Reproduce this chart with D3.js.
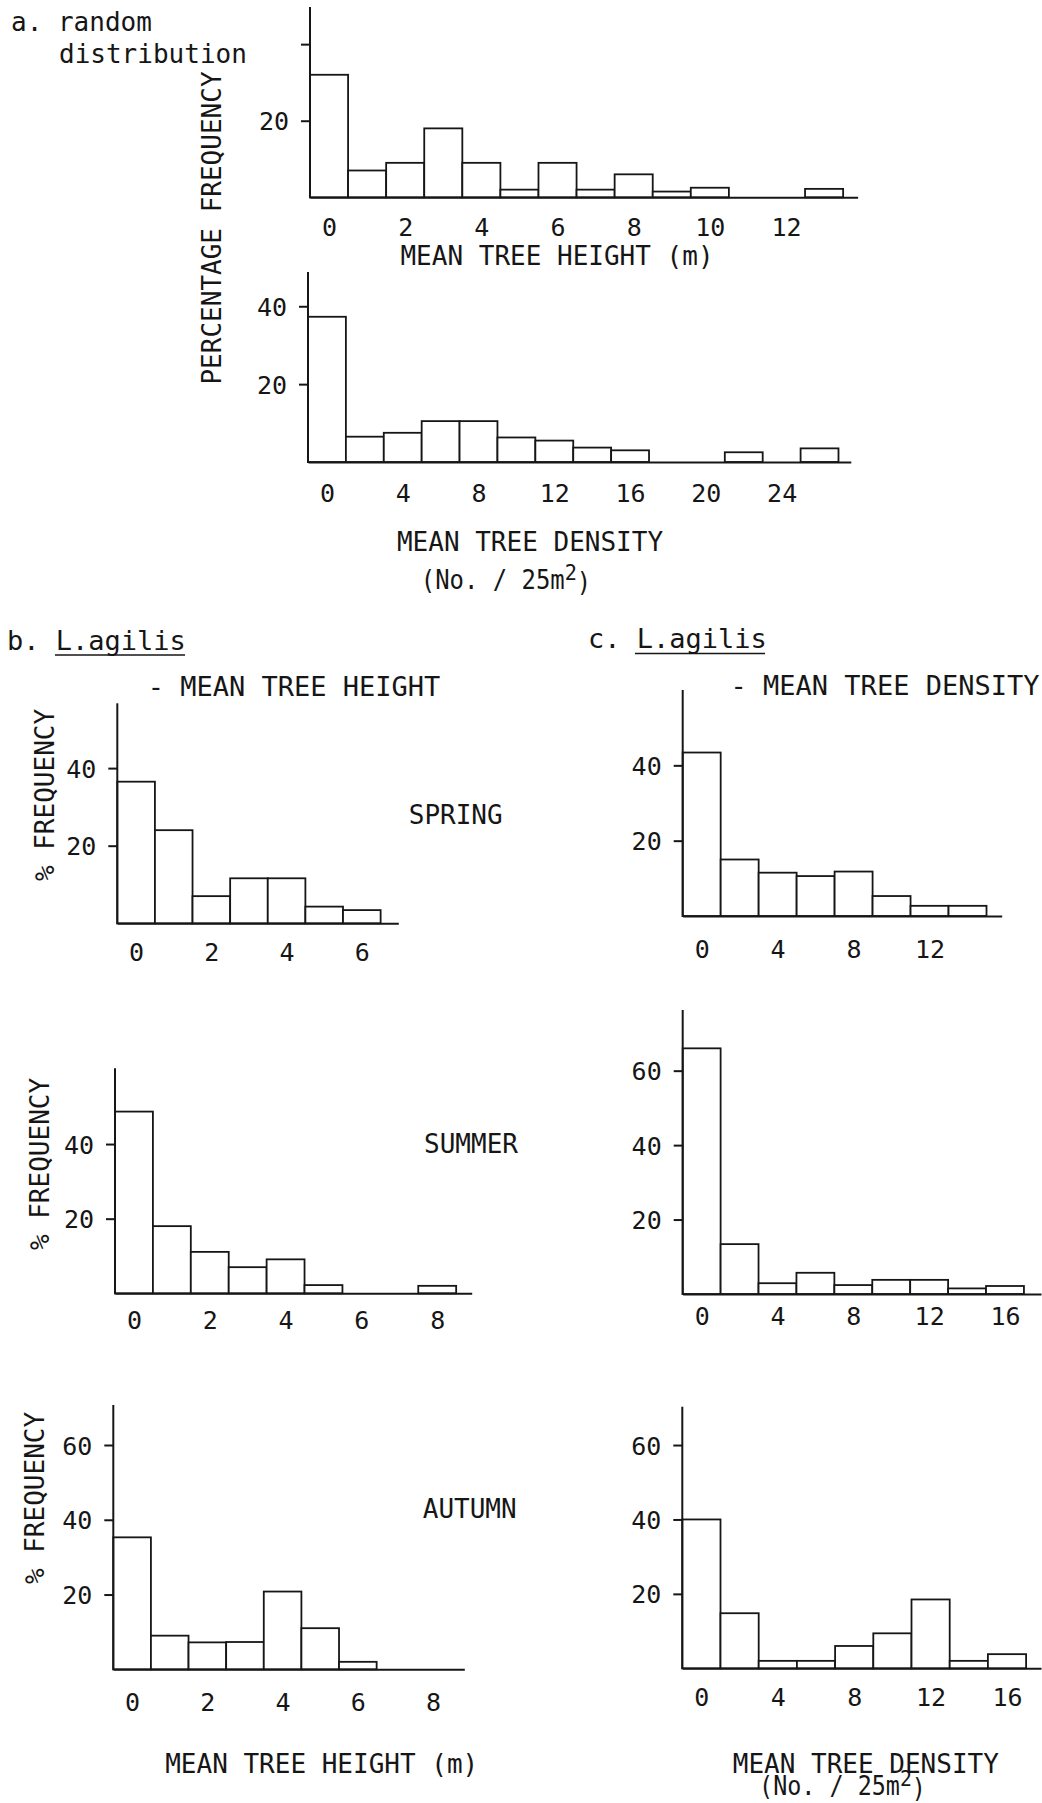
<!DOCTYPE html>
<html>
<head>
<meta charset="utf-8">
<script src="https://cdn.jsdelivr.net/npm/d3@7"></script>
<style>
  html, body { margin: 0; padding: 0; background: #fff; }
  svg { display: block; }
  text { font-family: "DejaVu Sans Mono", "Liberation Mono", monospace; fill: #161616; }
</style>
</head>
<body>
<svg id="fig" width="1042" height="1803"></svg>
<script>
// ---------- data: percentage frequency per class ----------
// a. random distribution
const randomHeightBins = [0, 1, 2, 3, 4, 5, 6, 7, 8, 9, 10, 11, 12, 13];
const randomHeightPct  = [32, 7, 9, 18, 9, 2, 9, 2, 6, 1.5, 2.5, 0, 0, 2.2];
const randomHeightTicks = [0, 2, 4, 6, 8, 10, 12];

const randomDensityBins = [0, 2, 4, 6, 8, 10, 12, 14, 16, 18, 20, 22, 24, 26];
const randomDensityPct  = [37.3, 6.5, 7.5, 10.5, 10.5, 6.3, 5.5, 3.7, 3, 0, 0, 2.5, 0, 3.5];
const randomDensityTicks = [0, 4, 8, 12, 16, 20, 24];

// b. L.agilis - mean tree height (m)
const springHeightBins = [0, 1, 2, 3, 4, 5, 6];
const springHeightPct  = [36.5, 24, 7, 11.6, 11.6, 4.3, 3.4];
const springHeightTicks = [0, 2, 4, 6];

const summerHeightBins = [0, 1, 2, 3, 4, 5, 6, 7, 8];
const summerHeightPct  = [48.7, 18, 11.1, 7, 9.1, 2.2, 0, 0, 2];
const summerHeightTicks = [0, 2, 4, 6, 8];

const autumnHeightBins = [0, 1, 2, 3, 4, 5, 6, 7, 8];
const autumnHeightPct  = [35.3, 9, 7.2, 7.3, 20.8, 11, 2, 0, 0];
const autumnHeightTicks = [0, 2, 4, 6, 8];

// c. L.agilis - mean tree density (No. / 25 m2)
const springDensityBins = [0, 2, 4, 6, 8, 10, 12, 14];
const springDensityPct  = [43.4, 15, 11.5, 10.6, 11.8, 5.3, 2.7, 2.7];
const springDensityTicks = [0, 4, 8, 12];

const summerDensityBins = [0, 2, 4, 6, 8, 10, 12, 14, 16];
const summerDensityPct  = [66, 13.4, 2.9, 5.7, 2.4, 3.8, 3.8, 1.5, 2.15];
const summerDensityTicks = [0, 4, 8, 12, 16];

const autumnDensityBins = [0, 2, 4, 6, 8, 10, 12, 14, 16];
const autumnDensityPct  = [40, 14.8, 2, 2, 6, 9.4, 18.5, 2, 3.8];
const autumnDensityTicks = [0, 4, 8, 12, 16];

// ---------- drawing ----------
const svg = d3.select("#fig");
const INK = "#161616";

// text helper: optional horizontal compression via scale about the anchor point
function label(s, x, y, o = {}) {
  const size = o.size || 26, sx = o.sx || 1, rot = o.rotate || 0;
  return svg.append("text")
    .attr("transform", `translate(${x},${y}) rotate(${rot}) scale(${sx},1)`)
    .attr("text-anchor", o.anchor || "middle")
    .attr("dy", o.dy === undefined ? "0.36em" : o.dy)
    .style("font-size", size + "px")
    .text(s);
}

function histogram(p) {
  const g = svg.append("g");
  const x = d3.scaleLinear().domain(p.xDomain).range([p.left, p.right]);
  const y = d3.scaleLinear().domain([0, p.yMax]).range([p.base, p.top]);
  const half = p.binWidth / 2;

  // bars
  g.selectAll("rect.bar")
    .data(p.bins.map((b, i) => ({ b, v: p.values[i] })))
    .join("rect")
    .attr("class", "bar")
    .attr("x", d => x(d.b - half))
    .attr("width", d => x(d.b + half) - x(d.b - half))
    .attr("y", d => y(d.v))
    .attr("height", d => y(0) - y(d.v))
    .attr("fill", "#fff")
    .attr("stroke", INK)
    .attr("stroke-width", 1.8);

  // x axis
  const xa = g.append("g")
    .attr("transform", `translate(0,${p.base})`)
    .call(d3.axisBottom(x).tickValues(p.xTicks).tickSize(0).tickSizeOuter(0));
  xa.select(".domain").attr("stroke", INK).attr("stroke-width", 2);
  xa.selectAll(".tick text")
    .attr("y", 0).attr("dy", "0.36em")
    .attr("transform", `translate(0,${p.xLabelOffset})`)
    .style("font-size", "25px")
    .style("font-family", '"DejaVu Sans Mono", monospace')
    .attr("fill", INK);

  // y axis
  const ya = g.append("g")
    .attr("transform", `translate(${p.left},0)`)
    .call(d3.axisLeft(y).tickValues(p.yTicks).tickSizeInner(9).tickSizeOuter(0)
      .tickFormat(v => (p.yHidden || []).includes(v) ? "" : v));
  ya.select(".domain").attr("stroke", INK).attr("stroke-width", 2)
    .attr("d", `M0,${p.base + 1}V${p.top}`);
  ya.selectAll(".tick line").attr("stroke", INK).attr("stroke-width", 2);
  ya.selectAll(".tick text")
    .attr("x", -21).attr("dy", "0.36em")
    .style("font-size", "25px")
    .style("font-family", '"DejaVu Sans Mono", monospace')
    .attr("fill", INK);
}

// superscript unit label "(No. / 25m²)"
function unitLabel(x, y, sx) {
  const t = label("(No. / 25m", x, y, { size: 26, sx });
  t.append("tspan").attr("dy", "-0.42em").style("font-size", "22px").text("2");
  t.append("tspan").attr("dy", "0.42em").text(")");
}

// ---------- panel a: random distribution ----------
histogram({ bins: randomHeightBins, values: randomHeightPct, xTicks: randomHeightTicks,
  binWidth: 1, xDomain: [-0.5, 13.88], yMax: 49.7, yTicks: [20, 40], yHidden: [40],
  left: 310, right: 857.6, base: 197.3, top: 7, xLabelOffset: 29.5 });

histogram({ bins: randomDensityBins, values: randomDensityPct, xTicks: randomDensityTicks,
  binWidth: 2, xDomain: [-1, 27.65], yMax: 48.8, yTicks: [20, 40],
  left: 308, right: 850.8, base: 462, top: 272, xLabelOffset: 31 });

label("a. random", 11, 31, { anchor: "start", dy: 0 });
label("distribution", 59, 63, { anchor: "start", dy: 0 });
label("PERCENTAGE FREQUENCY", 212, 228, { rotate: -90 });
label("MEAN TREE HEIGHT (m)", 557, 256);
label("MEAN TREE DENSITY", 530, 541.7);
unitLabel(506, 580, 0.92);

// ---------- panel b: L.agilis, mean tree height ----------
label("b. L.agilis", 7, 650, { anchor: "start", dy: 0, size: 27 });
svg.append("line").attr("x1", 55).attr("x2", 185).attr("y1", 655).attr("y2", 655)
  .attr("stroke", INK).attr("stroke-width", 1.6);
label("- MEAN TREE HEIGHT", 294, 686.7, { size: 27 });

histogram({ bins: springHeightBins, values: springHeightPct, xTicks: springHeightTicks,
  binWidth: 1, xDomain: [-0.5, 6.97], yMax: 56.7, yTicks: [20, 40],
  left: 117.3, right: 398.3, base: 923.3, top: 703.3, xLabelOffset: 28.5 });
histogram({ bins: summerHeightBins, values: summerHeightPct, xTicks: summerHeightTicks,
  binWidth: 1, xDomain: [-0.5, 8.91], yMax: 60.3, yTicks: [20, 40],
  left: 115, right: 471.7, base: 1293.3, top: 1068.3, xLabelOffset: 27 });
histogram({ bins: autumnHeightBins, values: autumnHeightPct, xTicks: autumnHeightTicks,
  binWidth: 1, xDomain: [-0.5, 8.83], yMax: 70.7, yTicks: [20, 40, 60],
  left: 113.3, right: 464.3, base: 1669.3, top: 1405, xLabelOffset: 32.5 });

label("% FREQUENCY", 45, 795, { rotate: -90 });
label("% FREQUENCY", 40, 1164, { rotate: -90 });
label("% FREQUENCY", 35, 1498, { rotate: -90 });
label("SPRING", 455.7, 815);
label("SUMMER", 471, 1143.3);
label("AUTUMN", 469.7, 1508.3);
label("MEAN TREE HEIGHT (m)", 321.7, 1763.3);

// ---------- panel c: L.agilis, mean tree density ----------
label("c. L.agilis", 588, 648, { anchor: "start", dy: 0, size: 27 });
svg.append("line").attr("x1", 635).attr("x2", 765).attr("y1", 653.5).attr("y2", 653.5)
  .attr("stroke", INK).attr("stroke-width", 1.6);
label("- MEAN TREE DENSITY", 885, 685, { size: 27 });

histogram({ bins: springDensityBins, values: springDensityPct, xTicks: springDensityTicks,
  binWidth: 2, xDomain: [-1, 15.8], yMax: 60, yTicks: [20, 40],
  left: 682.7, right: 1001.7, base: 916, top: 690, xLabelOffset: 33 });
histogram({ bins: summerDensityBins, values: summerDensityPct, xTicks: summerDensityTicks,
  binWidth: 2, xDomain: [-1, 17.9], yMax: 76.3, yTicks: [20, 40, 60],
  left: 682.7, right: 1041, base: 1294, top: 1010, xLabelOffset: 22 });
histogram({ bins: autumnDensityBins, values: autumnDensityPct, xTicks: autumnDensityTicks,
  binWidth: 2, xDomain: [-1, 17.78], yMax: 70.3, yTicks: [20, 40, 60],
  left: 682.3, right: 1041, base: 1668.3, top: 1406.7, xLabelOffset: 28.5 });

label("MEAN TREE DENSITY", 865.8, 1763.3);
unitLabel(842.5, 1785.5, 0.9);
</script>
</body>
</html>
